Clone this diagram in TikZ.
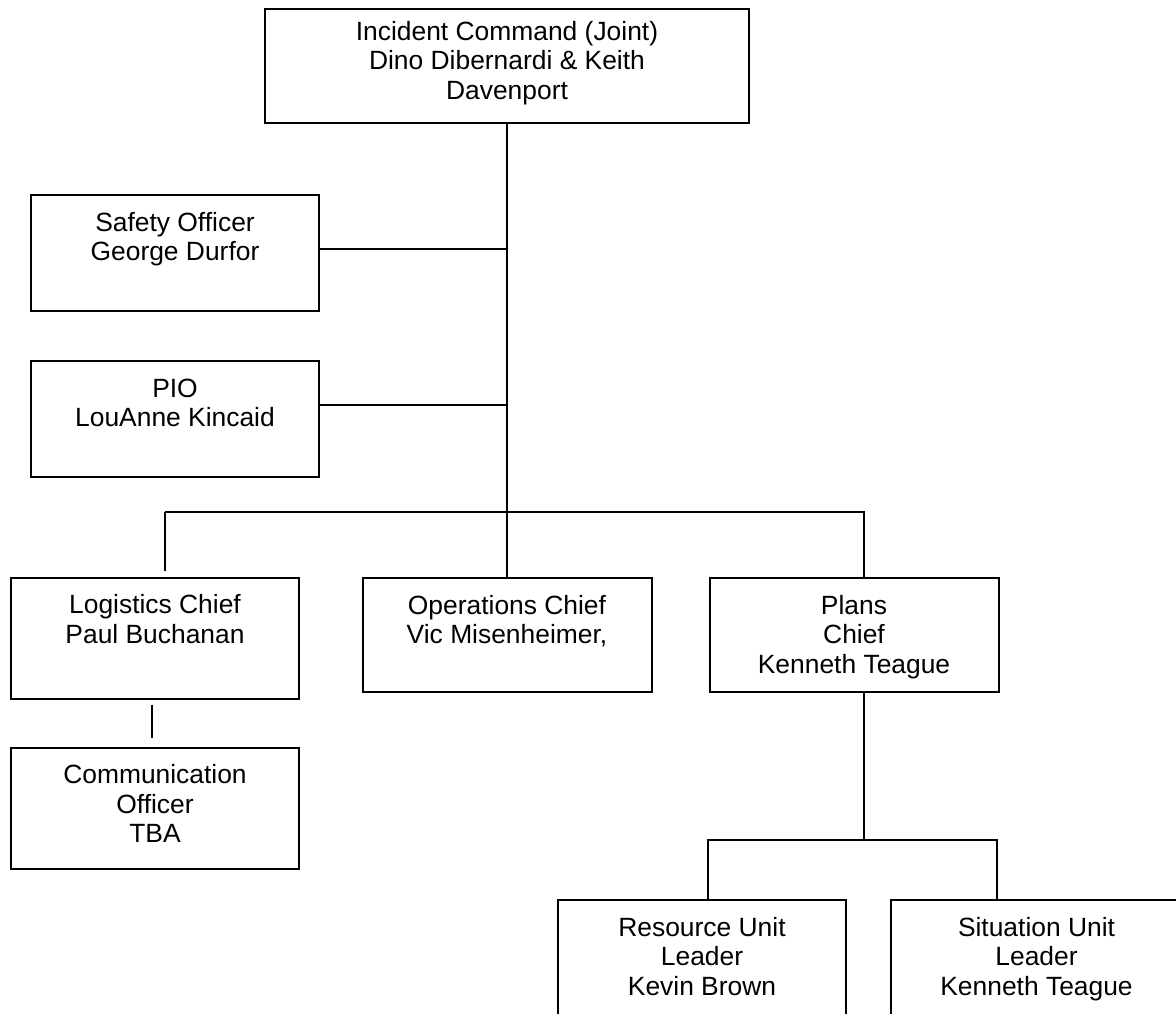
\documentclass[tikz,border=0pt]{standalone}
\usepackage{fontspec}
\setmainfont{Liberation Sans}
\usetikzlibrary{positioning}

% text block of a box: width, height, lines (top aligned)
\newcommand{\boxtext}[4][18pt]{\parbox[c][#3][t]{#2}{\centering\rule{0pt}{#1}#4}}

\begin{document}
\begin{tikzpicture}[x=0.5pt, y=-0.5pt, line width=1pt,
  orgbox/.style={draw, rectangle, inner sep=0pt, font=\fontsize{13.2}{14.75}\selectfont}]
\useasboundingbox (0,0) rectangle (1176,1013);

\node (ic) [orgbox] at (507,66) {\boxtext[15.5pt]{242pt}{57pt}{Incident Command (Joint)\\Dino Dibernardi \& Keith\\Davenport}};
\node (safety) [orgbox] at (175,253) {\boxtext{144pt}{58pt}{Safety Officer\\George Durfor}};
\node (pio) [orgbox, below=24pt of safety] {\boxtext{144pt}{58pt}{PIO\\LouAnne Kincaid}};
\node (logistics) [orgbox] at (155,638) {\boxtext{144pt}{60.5pt}{Logistics Chief\\Paul Buchanan}};
\node (comms) [orgbox, below=23.5pt of logistics] {\boxtext{144pt}{60.5pt}{Communication\\Officer\\TBA}};
\node (ops) [orgbox] at (507,635) {\boxtext{144.5pt}{57pt}{Operations Chief\\Vic Misenheimer,}};
\node (plans) [orgbox, right=28pt of ops] {\boxtext{144.5pt}{57pt}{Plans\\Chief\\Kenneth Teague}};
\node (resource) [orgbox] at (702,970) {\boxtext{144pt}{70pt}{Resource Unit\\Leader\\Kevin Brown}};
\node (situation) [orgbox, right=21.5pt of resource] {\boxtext{145.5pt}{70pt}{Situation Unit\\Leader\\Kenneth Teague}};

\coordinate (bar) at (507,512);
\coordinate (unitl) at (708,840);
\coordinate (unitr) at (997,840);

\draw (ic.south) -- (ops.north);
\draw ([yshift=2pt]safety.east) -- ([yshift=2pt]safety.east -| ic.south);
\draw ([yshift=7pt]pio.east) -- ([yshift=7pt]pio.east -| ic.south);
\draw ([xshift=5pt]logistics.north |- bar) -| ([xshift=5pt]plans.north);
\draw ([xshift=5pt]logistics.north |- bar) -- ([xshift=5pt,yshift=3pt]logistics.north);
\draw ([xshift=-1.5pt,yshift=-2.5pt]logistics.south) -- ([xshift=-1.5pt,yshift=4.5pt]comms.north);
\draw ([xshift=5pt]plans.south) -- ([xshift=5pt]plans.south |- unitl);
\draw (resource.north -| unitl) -- (unitl) -- (unitr) -- (situation.north -| unitr);
\end{tikzpicture}
\end{document}
